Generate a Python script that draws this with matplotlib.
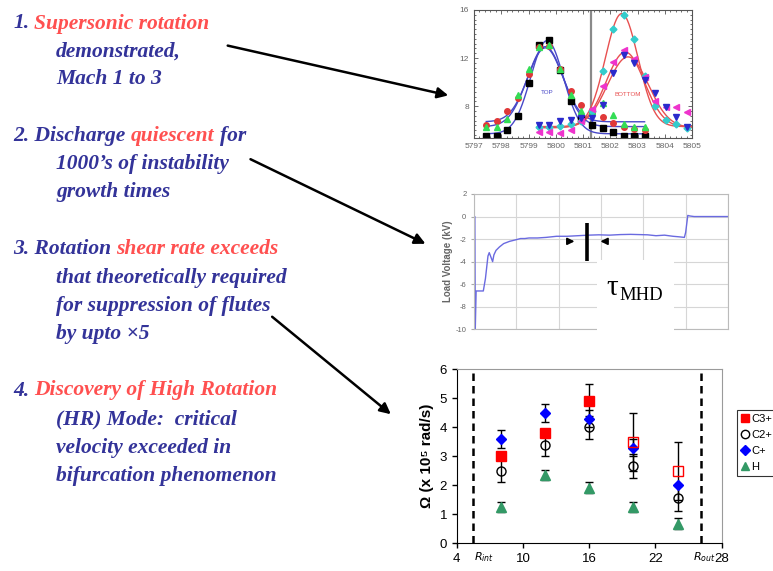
import numpy as np
import matplotlib
matplotlib.use("Agg")
import matplotlib.pyplot as plt
from matplotlib.patches import Rectangle
from matplotlib.lines import Line2D

plt.rcParams["font.family"] = ["Liberation Sans", "DejaVu Sans"]
plt.rcParams["axes.unicode_minus"] = False

BLUE_TXT = "#333399"
RED_TXT = "#ff5050"

# ---- slide text: each line is a list of (text, colour) pieces ----
lines = [
    (13, 28.5, [("1.", BLUE_TXT), ("Supersonic rotation", RED_TXT)]),
    (56, 56.5, [("demonstrated,", BLUE_TXT)]),
    (56, 84.5, [("Mach 1 to 3", BLUE_TXT)]),
    (13, 141.5, [("2. Discharge", BLUE_TXT), ("quiescent", RED_TXT), ("for", BLUE_TXT)]),
    (56, 169, [("1000\u2019s of instability", BLUE_TXT)]),
    (56, 197, [("growth times", BLUE_TXT)]),
    (13, 254, [("3. Rotation", BLUE_TXT), ("shear rate exceeds", RED_TXT)]),
    (56, 282.5, [("that theoretically required", BLUE_TXT)]),
    (56, 310.5, [("for suppression of flutes", BLUE_TXT)]),
    (56, 338.5, [("by upto \u00d75", BLUE_TXT)]),
    (13, 395.5, [("4.", BLUE_TXT), ("Discovery of High Rotation", RED_TXT)]),
    (56, 424, [("(HR) Mode:  critical", BLUE_TXT)]),
    (56, 452.5, [("velocity exceeded in", BLUE_TXT)]),
    (56, 480.5, [("bifurcation phenomenon", BLUE_TXT)]),
]
arrows = [((225, 45), (451, 96)), ((248, 158), (428, 245)), ((270, 315), (393, 416))]

# ---- top chart: line profiles (TOP / BOTTOM chords) ----
wl_top = [5797.45, 5797.84, 5798.22, 5798.61, 5799.0, 5799.38, 5799.77, 5800.16,
          5800.55, 5800.94, 5801.33, 5801.72, 5802.1, 5802.49, 5802.88, 5803.26]
top_black = [5.5, 5.55, 6.0, 7.2, 9.9, 13.1, 13.5, 11.0, 8.4, 6.9, 6.4, 6.15, 5.85, 5.5, 5.55, 5.5]
top_red = [6.45, 6.8, 7.6, 8.7, 10.7, 12.9, 13.0, 11.1, 9.3, 8.1, 7.5, 7.1, 6.6, 6.25, 6.1, 6.05]
top_green = [6.3, 6.3, 6.9, 8.9, 11.1, 12.9, 13.1, 11.1, 8.9, 7.6, 7.6, 8.3, 7.3, 6.5, 6.3, 6.3]

wl_bot = [5799.38, 5799.77, 5800.16, 5800.55, 5800.94, 5801.33, 5801.72, 5802.1,
          5802.49, 5802.88, 5803.26, 5803.65, 5804.04, 5804.42, 5804.8]
bot_cyan = [6.3, 6.3, 6.35, 6.5, 6.8, 7.6, 10.9, 14.45, 15.6, 13.55, 10.5, 8.05, 6.85, 6.5, 6.2]
bot_magenta = [5.85, 5.85, 5.8, 6.0, 6.8, 7.8, 9.7, 11.7, 12.7, 11.9, 10.4, 8.4, 7.95, 7.9, 7.5]
bot_blue = [6.45, 6.45, 6.8, 6.85, 7.05, 7.0, 8.1, 10.75, 12.25, 11.6, 10.2, 9.1, 7.9, 7.1, 6.3]

# gaussian fit parameters: centre, peak, width, baseline
top_fit_center = [5799.68, 5799.62, 5799.62]
top_fit_peak = [13.45, 12.95, 12.85]
top_fit_width = [0.6, 0.66, 0.64]
top_fit_base = [5.7, 6.3, 6.7]
bot_fit_center = [5802.42, 5802.55, 5802.65]
bot_fit_peak = [15.7, 12.5, 12.1]
bot_fit_width = [0.6, 0.7, 0.75]
bot_fit_base = [6.3, 6.25, 6.2]
divider_wl = 5801.3

# ---- middle chart: load voltage trace ----
trace_t = [0.0, 0.02, 0.03, 0.05, 0.22, 0.27, 0.33, 0.36, 0.40, 0.44, 0.47, 0.52, 0.6, 0.7,
           0.84, 1.0, 1.1, 1.2, 1.3, 1.5, 1.7, 1.95, 2.2, 2.45, 2.7, 2.95, 3.2, 3.45, 3.7,
           3.9, 4.1, 4.3, 4.5, 4.7, 4.85, 4.97, 5.0, 5.05, 5.1, 5.2, 6.0]
trace_v = [0.0, 0.0, -10.0, -6.6, -6.6, -5.5, -3.5, -3.2, -3.6, -4.0, -3.4, -3.0, -2.7, -2.4,
           -2.2, -2.05, -1.95, -1.95, -1.9, -1.9, -1.85, -1.75, -1.75, -1.7, -1.65, -1.62,
           -1.65, -1.6, -1.58, -1.6, -1.62, -1.7, -1.65, -1.75, -1.8, -1.85, -1.4, 0.1,
           0.05, 0.0, 0.0]
mhd_t = 2.68

# ---- bottom chart: rotation frequency vs radius ----
radius = [8, 12, 16, 20, 24]
c3 = [3.0, 3.8, 4.9, 3.5, 2.5]
c3_err = [0, 0, 0.6, 1.0, 1.0]
c3_open = [False, False, False, True, True]
c2 = [2.5, 3.4, 4.0, 2.67, 1.55]
c2_err = [0.4, 0.4, 0.4, 0.42, 0.42]
c1 = [3.6, 4.5, 4.3, 3.3, 2.0]
c1_err = [0.3, 0.3, 0.3, 0.3, 0]
h = [1.25, 2.35, 1.92, 1.25, 0.68]
h_err = [0.18, 0.18, 0.18, 0.18, 0.2]
r_int, r_out = 5.5, 26.1

W, H = 773, 571
fig = plt.figure(figsize=(W / 100, H / 100), dpi=100)


def box(left, top, right, bottom):
    return [left / W, 1 - bottom / H, (right - left) / W, (bottom - top) / H]


# overlay in pixel coordinates for the slide text and arrows
ax0 = fig.add_axes([0, 0, 1, 1])
ax0.set_xlim(0, W)
ax0.set_ylim(H, 0)
ax0.axis("off")

renderer = fig.canvas.get_renderer()
text_kw = dict(family="Liberation Serif", weight="bold", style="italic", fontsize=15.5,
               va="baseline", ha="left")


def width_of(s):
    t = ax0.text(0, 0, s, **text_kw)
    w = t.get_window_extent(renderer).width
    t.remove()
    return w


space_w = width_of("n n") - width_of("nn")
for x, y, parts in lines:
    for s, c in parts:
        t = ax0.text(x, y, s, color=c, **text_kw)
        x = t.get_window_extent(renderer).x1 + space_w

for start, tip in arrows:
    ax0.annotate("", xy=tip, xytext=start,
                 arrowprops=dict(arrowstyle="-|>", lw=1.8, color="black", mutation_scale=16))

# ---------------- top chart ----------------
ax1 = fig.add_axes(box(474, 10, 692, 138))
grey = "#666666"
ax1.axvline(divider_wl, color="#8a8a8a", lw=1.6, zorder=1)
xs = np.linspace(wl_top[0], wl_top[-1], 300)
for c, p, w, b in zip(top_fit_center, top_fit_peak, top_fit_width, top_fit_base):
    ax1.plot(xs, b + (p - b) * np.exp(-0.5 * ((xs - c) / w) ** 2), color="#4848c8", lw=1.0)
xs = np.linspace(wl_bot[0] - 0.05, 5805, 300)
for c, p, w, b in zip(bot_fit_center, bot_fit_peak, bot_fit_width, bot_fit_base):
    ax1.plot(xs, b + (p - b) * np.exp(-0.5 * ((xs - c) / w) ** 2), color="#e85050", lw=1.0)
ms = 4.0
ax1.plot(wl_top, top_black, "s", color="black", ms=ms)
ax1.plot(wl_top, top_red, "o", color="#e03838", ms=ms)
ax1.plot(wl_top, top_green, "^", color="#33dd55", ms=ms)
ax1.plot(wl_bot, bot_cyan, "D", color="#33cccc", ms=ms - 0.5)
ax1.plot(wl_bot, bot_magenta, "<", color="#ee33cc", ms=ms)
ax1.plot(wl_bot, bot_blue, "v", color="#2a2acc", ms=ms)
ax1.text(5799.7, 9.1, "TOP", color="#4848c8", fontsize=4.5, ha="center", va="center")
ax1.text(5802.65, 9.0, "BOTTOM", color="#e85050", fontsize=4.5, ha="center", va="center")
ax1.set_xlim(5797, 5805)
ax1.set_ylim(5.35, 16)
ax1.set_xticks(range(5797, 5806))
ax1.set_yticks([8, 12, 16])
ax1.set_xticks(np.arange(5797, 5805.01, 0.2), minor=True)
ax1.set_yticks(np.arange(5.6, 16.01, 0.4), minor=True)
ax1.tick_params(which="both", direction="in", top=True, right=True, colors="#555555",
                labelcolor=grey, labelsize=6, width=0.6)
ax1.tick_params(which="major", length=3)
ax1.tick_params(which="minor", length=1.5)
for sp in ax1.spines.values():
    sp.set_color("#555555")
    sp.set_linewidth(0.8)

# ---------------- middle chart ----------------
ax2 = fig.add_axes(box(474, 194, 728, 329.3))
ax2.plot(trace_t, trace_v, color="#6a6ae0", lw=1.0)
ax2.set_xlim(0, 6)
ax2.set_ylim(-10, 2)
ax2.set_yticks(range(-10, 3, 2))
ax2.set_xticks(range(0, 7))
ax2.tick_params(axis="x", labelbottom=False, length=0)
ax2.tick_params(axis="y", length=2, colors="#aaaaaa", labelcolor=grey, labelsize=5.5)
ax2.grid(color="#d6d6d6", lw=0.8)
for sp in ax2.spines.values():
    sp.set_color("#bbbbbb")
ax2.set_ylabel("Load Voltage (kV)", fontsize=7, color=grey, weight="bold", labelpad=2)
ax2.plot([mhd_t, mhd_t], [-0.55, -3.95], color="black", lw=2.6, solid_capstyle="butt")
ax2.annotate("", xy=(2.44, -2.2), xytext=(2.15, -2.2),
             arrowprops=dict(arrowstyle="-|>", color="black", lw=1.3, mutation_scale=10))
ax2.annotate("", xy=(2.92, -2.2), xytext=(3.22, -2.2),
             arrowprops=dict(arrowstyle="-|>", color="black", lw=1.3, mutation_scale=10))
ax2.add_patch(Rectangle((2.9, -10.3), 1.82, 6.45, facecolor="white", edgecolor="none",
                        clip_on=False, zorder=5))
fig.text(606 / W, 1 - 295 / H, "\u03c4", family="Liberation Serif", fontsize=21,
         va="baseline", ha="left")
fig.text(619 / W, 1 - 300.5 / H, "MHD", family="Liberation Serif", fontsize=13.5,
         va="baseline", ha="left")

# ---------------- bottom chart ----------------
ax3 = fig.add_axes(box(456.7, 369.3, 721.7, 543.3))
ax3.axvline(r_int, color="black", lw=1.8, ls=(0, (3, 2)))
ax3.axvline(r_out, color="black", lw=1.8, ls=(0, (3, 2)))
eb = dict(fmt="none", ecolor="black", elinewidth=1.0, capsize=3, capthick=1.0)
ax3.errorbar(radius, c2, yerr=c2_err, **eb)
ax3.errorbar(radius, c1, yerr=c1_err, **eb)
ax3.errorbar(radius, c3, yerr=c3_err, **eb)
ax3.errorbar(radius, h, yerr=h_err, **eb)
mk = 6.5
ax3.plot(radius, c2, "o", mfc="none", mec="black", mew=1.0, ms=mk, label="C2+")
ax3.plot(radius, c1, "D", color="#0000ff", ms=mk - 1, label="C+")
r_fill = [r for r, o in zip(radius, c3_open) if not o]
v_fill = [v for v, o in zip(c3, c3_open) if not o]
r_open = [r for r, o in zip(radius, c3_open) if o]
v_open = [v for v, o in zip(c3, c3_open) if o]
ax3.plot(r_fill, v_fill, "s", color="#ff0000", ms=mk, label="C3+")
ax3.plot(r_open, v_open, "s", mfc="none", mec="#ff0000", mew=1.0, ms=mk)
ax3.plot(radius, h, "^", color="#339966", ms=mk, label="H")
ax3.set_xlim(4, 28)
ax3.set_ylim(0, 6)
ax3.set_xticks([4, 10, 16, 22, 28])
ax3.set_yticks(range(0, 7))
ax3.tick_params(labelsize=9.5, length=3.5, width=1)
ax3.spines["top"].set_color("#9a9a9a")
ax3.spines["right"].set_color("#9a9a9a")
ax3.set_ylabel("\u03a9 (x 10\u2075 rad/s)", fontsize=11, weight="bold", labelpad=4)
ax3.text(6.45, -0.096, r"$R_{int}$", fontsize=8, ha="center", va="baseline",
         transform=ax3.get_xaxis_transform())
ax3.text(26.4, -0.096, r"$R_{out}$", fontsize=8, ha="center", va="baseline",
         transform=ax3.get_xaxis_transform())

handles = [Line2D([], [], marker="s", ls="none", color="#ff0000", ms=6),
           Line2D([], [], marker="o", ls="none", mfc="none", mec="black", ms=6),
           Line2D([], [], marker="D", ls="none", color="#0000ff", ms=5),
           Line2D([], [], marker="^", ls="none", color="#339966", ms=6)]
leg = ax3.legend(handles, ["C3+", "C2+", "C+", "H"], loc="upper left",
                 bbox_to_anchor=(737 / W, 1 - 410 / H), bbox_transform=fig.transFigure,
                 fontsize=8, frameon=True, fancybox=False, edgecolor="black",
                 handlelength=0.7, handletextpad=0.2, borderpad=0.35, labelspacing=0.55,
                 borderaxespad=0)
leg.get_frame().set_linewidth(0.8)

fig.savefig("out.png", dpi=100)
